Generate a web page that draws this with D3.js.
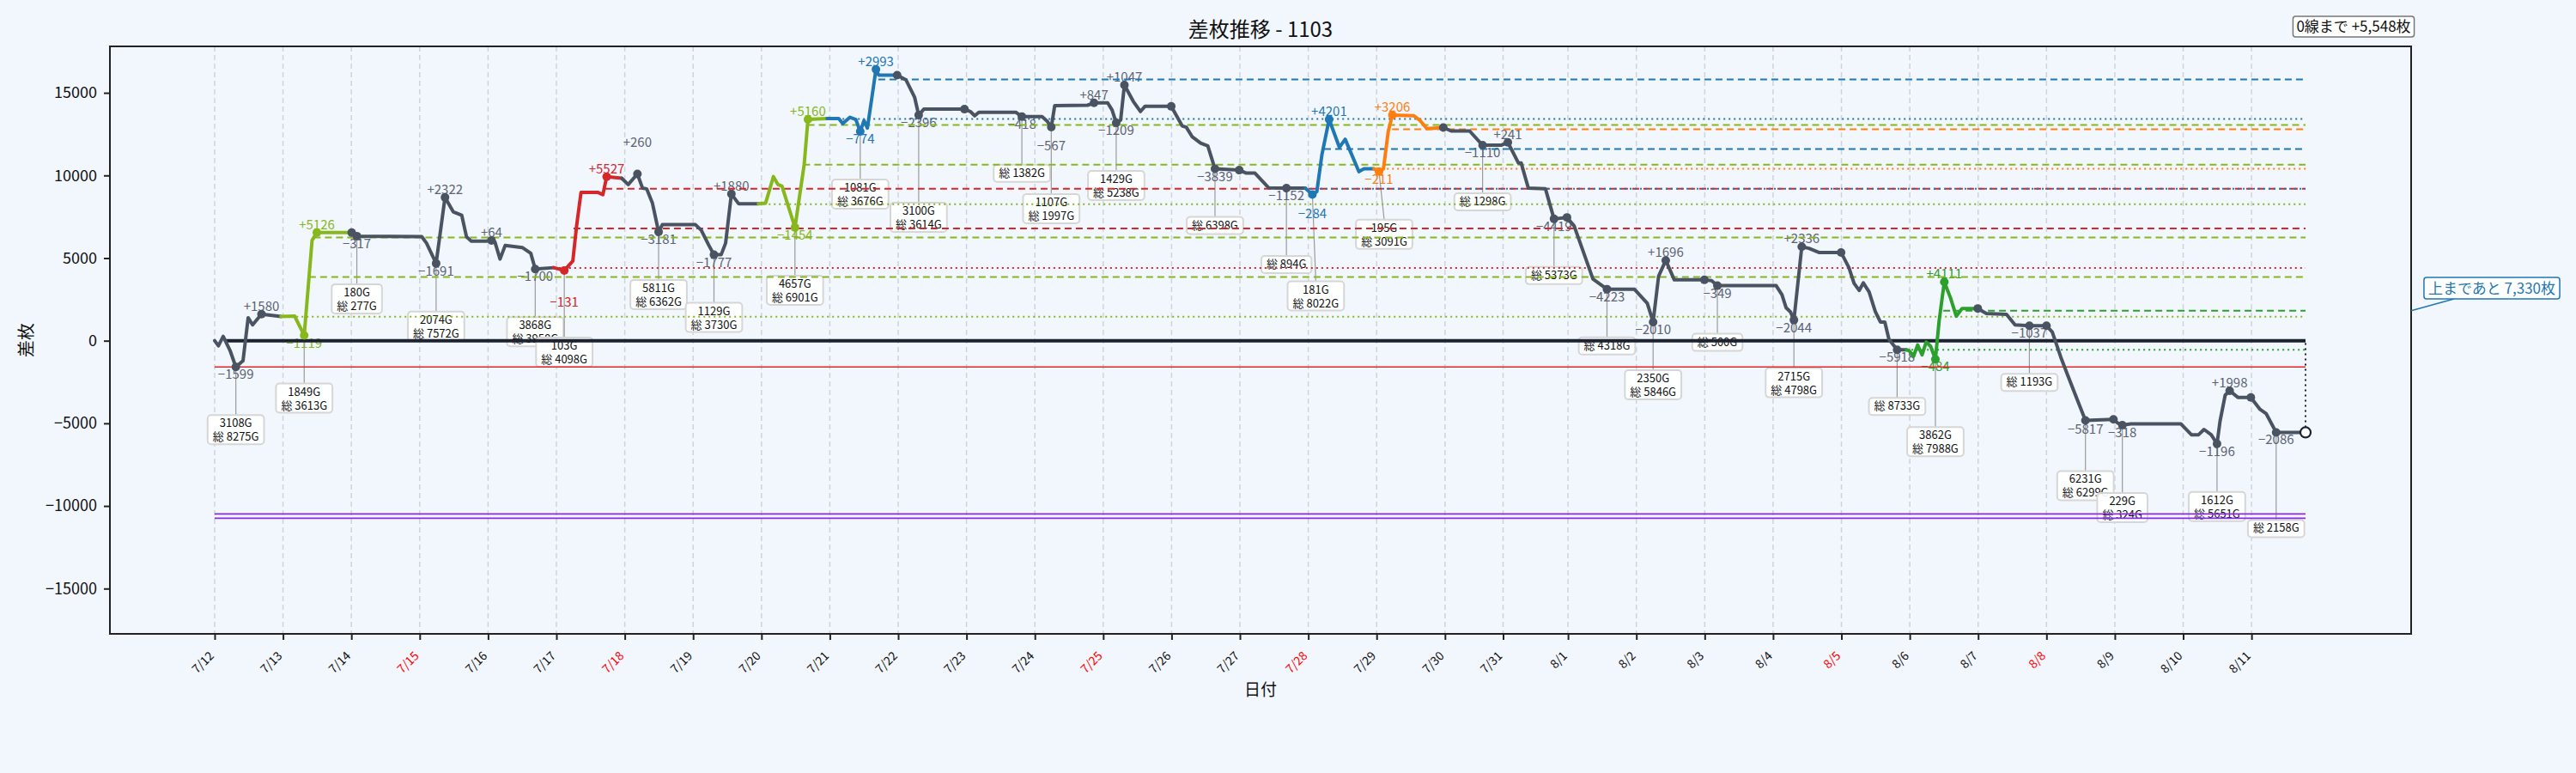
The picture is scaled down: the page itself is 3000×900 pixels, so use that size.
<!DOCTYPE html>
<html>
<head>
<meta charset="utf-8">
<script src="https://cdn.jsdelivr.net/npm/d3@7/dist/d3.min.js"></script>
<style>
html,body{margin:0;padding:0;background:#f2f6fd;}
svg text{font-family:"Noto Sans CJK JP","Noto Sans",sans-serif;}
</style>
</head>
<body>
<svg id="chart" width="3000" height="900"></svg>
<script>
// ================= DATA =================
const title = "差枚推移 - 1103";
const yLabel = "差枚";
const xLabel = "日付";
const dayLabels = ["7/12","7/13","7/14","7/15","7/16","7/17","7/18","7/19","7/20","7/21","7/22","7/23","7/24","7/25","7/26","7/27","7/28","7/29","7/30","7/31","8/1","8/2","8/3","8/4","8/5","8/6","8/7","8/8","8/9","8/10","8/11"];
// sample index where each day starts
const dayStart = [0,20,40,60,80,100,120,140,160,180,200,220,240,260,280,300,320,340,360,377,396,416,436,456,476,496,516,536,556,576,596];
const specialDays = ["7/15","7/18","7/25","7/28","8/5","8/8"];
const yTicks = [-15000,-10000,-5000,0,5000,10000,15000];

// [sample index, 差枚]
const points = [
[0,0],[1.1,-310],[2.5,260],[4.5,-590],[6.2,-1590],[8.3,-1210],[9.8,1390],[11.1,960],[13.7,1610],[19.4,1470],
[23.4,1490],[25.1,780],[26.2,320],[28.5,6070],[29.9,6540],[40.1,6540],[41.6,6330],[60.6,6300],[62,5900],[64.8,4680],
[67.4,8670],[69.8,7800],[72.3,7590],[73.7,6280],[75.1,6020],[79.5,6020],[81,6070],[82,5980],[83.5,4940],[85,5760],
[90,5640],[92.5,5290],[93.8,4340],[99.2,4420],[102.3,4250],[104.8,4820],[105.9,6940],[107.2,8970],[112.2,8970],[113.6,8840],
[114.7,9920],[119.1,9830],[121,9450],[123.7,10090],[125.2,9230],[126.4,9190],[128.1,8320],[129.9,6590],[131,7020],[140.7,7020],
[142.4,6680],[144.5,5810],[146.1,5200],[148.2,5200],[149.5,5900],[151.2,8880],[153.3,8290],[159.1,8290],[161.2,8320],[163.5,9930],
[164.8,9450],[166,9360],[169.8,6850],[172.5,10660],[173.6,13390],[179.2,13440],[182.6,13440],[183.8,13140],[185.9,13520],[187.6,13390],
[188.9,12660],[190,13320],[191,12870],[192.2,14560],[193.5,16420],[194.3,16070],[199.7,16070],[202.3,15780],[204.8,14740],[206,13650],
[207.5,14010],[219.4,14010],[221.1,13870],[222.4,13610],[223.6,13820],[234.5,13820],[236.2,13560],[242.1,13560],[243.7,13260],[244.8,12920],
[245.8,14220],[255.4,14250],[257.3,14390],[261.3,14390],[262.6,13960],[263.8,13180],[265.1,13350],[266.2,15470],[268.8,14480],[270.9,13870],
[272.2,14180],[279.9,14180],[283.1,13000],[284.3,12920],[286,12350],[288.5,11960],[290.6,11790],[292.7,10400],[299.8,10320],[301.9,10140],
[304.4,10140],[308.4,9250],[313.6,9230],[319.1,9230],[321.2,8840],[322.5,9020],[324,11270],[326.1,13390],[329.1,11700],[330.8,12190],
[332.5,11360],[334.8,10230],[336.3,10400],[339.2,10400],[340.7,10230],[342,10400],[343.4,12660],[344.6,13650],[350.9,13610],[352.6,13350],
[354.7,12830],[359.5,12900],[361.8,12690],[367.2,12690],[371,11830],[376.4,11830],[378.4,12000],[381.5,10750],[382.3,10750],[384.4,9230],
[389.4,9190],[391.9,7370],[395.7,7460],[397.8,6940],[403.3,3730],[407.4,3120],[415.4,3120],[419.2,2260],[420.9,1130],[422.5,3900],
[424.6,4860],[427.1,3680],[435.9,3680],[438,3640],[439.7,3330],[456.9,3330],[458.6,2780],[459.8,2000],[461.1,1740],[462.1,1250],
[464.4,5690],[466.5,5590],[469.4,5340],[475.9,5340],[478.2,4420],[479.7,3470],[481.2,3040],[482.4,3500],[484.1,2950],[485.9,1770],
[487.4,1130],[488.7,1130],[489.9,90],[492.3,-550],[495,-550],[495.8,-600],[497.1,-950],[498.3,-260],[499.6,-860],[500.8,-80],
[502.1,-340],[503.5,-1120],[504.6,1220],[506.1,3560],[507.9,2600],[509.6,1480],[511.3,1950],[515.9,1950],[518.4,1650],[524.3,1600],
[526.8,960],[531,905],[536,905],[537.7,520],[540.2,-1000],[542.2,-2080],[544.8,-3460],[547.4,-4820],[555.6,-4760],[556.9,-4990],
[558.2,-5110],[560.7,-5030],[575.3,-5030],[578.4,-5690],[580.5,-5690],[582.1,-5370],[584.2,-5690],[585.9,-6240],[586.8,-4850],[588.3,-3290],
[589.6,-3030],[592,-3430],[595.8,-3430],[598.5,-4160],[600.3,-4420],[603.2,-5548],[611.8,-5548]
];
// [from point, to point, series]
const segments = [[0,9,"gray"],[9,15,"lime"],[15,33,"gray"],[33,41,"red"],[41,57,"gray"],[57,65,"lime"],[65,76,"blue"],[76,113,"gray"],[113,123,"blue"],[123,131,"orange"],[131,174,"gray"],[174,187,"green"],[187,216,"gray"]];
const dotIdx = [4,8,12,14,15,16,19,20,26,32,34,40,43,47,52,55,62,64,70,74,76,79,81,86,89,92,95,97,101,107,108,112,114,117,124,127,131,134,136,141,142,145,148,150,152,154,159,160,163,173,181,183,187,191,192,197,198,200,207,210,212,215];
// [point, swing]
const swingLabels = [[4,-1599],[8,1580],[12,-1119],[14,5126],[16,-317],[19,-1691],[20,2322],[26,64],[32,-1700],[34,-131],[40,5527],[43,260],[47,-3181],[52,-1777],[55,1880],[62,-1454],[64,5160],[70,-774],[74,2993],[79,-2396],[86,-418],[89,-567],[92,847],[95,-1209],[97,1047],[107,-3839],[112,-1152],[114,-284],[117,4201],[124,-211],[127,3206],[134,-1110],[136,241],[141,-4419],[145,-4223],[148,-2010],[150,1696],[154,-349],[159,-2044],[160,2336],[173,-5918],[181,-484],[183,4111],[191,-1037],[197,-5817],[200,-318],[207,-1196],[210,1998],[215,-2086]];
// [point, lines...]
const gameBoxes = [[4,"3108G","総 8275G"],[12,"1849G","総 3613G"],[16,"180G","総 277G"],[19,"2074G","総 7572G"],[32,"3868G","総 3958G"],[34,"103G","総 4098G"],[47,"5811G","総 6362G"],[52,"1129G","総 3730G"],[62,"4657G","総 6901G"],[70,"1081G","総 3676G"],[79,"3100G","総 3614G"],[86,"総 1382G"],[89,"1107G","総 1997G"],[95,"1429G","総 5238G"],[107,"総 6398G"],[112,"総 894G"],[114,"181G","総 8022G"],[124,"195G","総 3091G"],[134,"総 1298G"],[141,"総 5373G"],[145,"総 4318G"],[148,"2350G","総 5846G"],[154,"総 500G"],[159,"2715G","総 4798G"],[173,"総 8733G"],[181,"3862G","総 7988G"],[191,"総 1193G"],[197,"6231G","総 6299G"],[200,"229G","総 324G"],[207,"1612G","総 5651G"],[215,"総 2158G"]];
// reference levels
const refLevel  = [1456,3849,6241,4405,6798,9190,8254,10647,13055,13418,15811,9190,11598,10402,12795,-551,1820];
const refFrom   = [19.4,27.6,29,99.2,105,114.3,159.1,172.2,173.5,179.2,194.2,319.1,324.6,340,344.5,495,505.8];
const refSeries = ["lime","lime","lime","red","red","red","lime","lime","lime","blue","blue","blue","blue","orange","orange","green","green"];
const refKind   = ["start","target","target","start","target","target","start","target","target","start","target","start","target","start","target","start","target"];
const minLevel = -1590;
const drawdownLevels = [-10486,-10746];
const zeroFrom = 3;
const toZeroText = "0線まで +5,548枚";
const toTopText = "上まであと 7,330枚";
const toTopLevel = 1820;

// ================= LAYOUT / STYLE =================
const palette = {gray:"#4a5361", lime:"#86b81c", red:"#d62728", blue:"#1f77b4", orange:"#ff7f0e", green:"#2ca02c"};
const labelExtra = {34:28, 43:-28, 89:13, 114:13, 197:2};
const boxTopExtra = {34:22, 79:46, 89:22, 112:23, 114:45, 181:23, 197:3, 200:23, 215:46};
const boxDx = {114:4, 124:6};

const W=3000,H=900, L=128,R=2808,T=54,B=738;
const x = d3.scaleLinear().domain([-30.65,642.7]).range([L,R]);
const y = d3.scaleLinear().domain([-17740,17810]).range([B,T]);
const svg = d3.select("#chart");
svg.append("rect").attr("width",W).attr("height",H).attr("fill","#f2f6fd");
svg.append("defs").append("clipPath").attr("id","clip").append("rect")
  .attr("x",L).attr("y",T).attr("width",R-L).attr("height",B-T);

const seriesAt = i => { for (const s of segments) if (i>=s[0] && i<s[1]) return s[2]; return "gray"; };
const colorAt = i => palette[seriesAt(i)];
const labelColorAt = i => seriesAt(i)==="gray" ? "#5b6472" : palette[seriesAt(i)];
const fmtSigned = v => (v>0?"+":"−")+Math.abs(v);
const xEnd = points[points.length-1][0];

// grid
svg.append("g").selectAll("line").data(dayStart).join("line")
  .attr("x1",d=>x(d)).attr("x2",d=>x(d)).attr("y1",T).attr("y2",B)
  .attr("stroke","#cfd3da").attr("stroke-width",1.5).attr("stroke-dasharray","6,4");

// game boxes + connectors
const boxG = svg.append("g");
gameBoxes.forEach(([i,...lines])=>{
  const [px,pv] = points[i];
  const cx = x(px)+(boxDx[i]||0);
  const dy = y(pv);
  const top = dy+56+(boxTopExtra[i]||0);
  const h = lines.length===2?34:20;
  boxG.append("line").attr("x1",x(px)).attr("y1",dy).attr("x2",cx).attr("y2",top)
    .attr("stroke","#9a9a9a").attr("stroke-width",1.2);
  const g = boxG.append("g");
  const rect = g.append("rect");
  const ts = lines.map((t,k)=>g.append("text").attr("x",cx).attr("y",top+14+k*16)
    .attr("text-anchor","middle").attr("font-size",13).attr("fill","#111").text(t));
  const w = d3.max(ts,t=>t.node().getComputedTextLength())+12;
  rect.attr("x",cx-w/2).attr("y",top).attr("width",w).attr("height",h).attr("rx",4)
    .attr("fill","#ffffff").attr("fill-opacity",0.93).attr("stroke","#d6d6d6").attr("stroke-width",2);
});

// swing labels
svg.append("g").selectAll("text").data(swingLabels).join("text")
  .attr("x",d=>x(points[d[0]][0]))
  .attr("y",d=>y(points[d[0]][1])+(d[1]>0?-4:14)+(labelExtra[d[0]]||0))
  .attr("text-anchor","middle").attr("font-size",15)
  .attr("fill",d=>labelColorAt(d[0])).text(d=>fmtSigned(d[1]));

// reference lines
const refG = svg.append("g").attr("clip-path","url(#clip)");
refLevel.forEach((v,k)=>{
  refG.append("line").attr("x1",x(refFrom[k])).attr("x2",x(xEnd)).attr("y1",y(v)).attr("y2",y(v))
    .attr("stroke",palette[refSeries[k]]).attr("stroke-width",2)
    .attr("stroke-dasharray",refKind[k]==="start"?"2,4":"8,5");
});
refG.append("line").attr("x1",x(0)).attr("x2",x(xEnd)).attr("y1",y(minLevel)).attr("y2",y(minLevel))
  .attr("stroke","#e0262b").attr("stroke-width",1.5);
drawdownLevels.forEach(v=>{
  refG.append("line").attr("x1",x(0)).attr("x2",x(xEnd)).attr("y1",y(v)).attr("y2",y(v))
    .attr("stroke","#8a2be2").attr("stroke-width",1.8);
});
refG.append("line").attr("x1",x(zeroFrom)).attr("x2",x(xEnd)).attr("y1",y(0)).attr("y2",y(0))
  .attr("stroke","#1b2232").attr("stroke-width",4);

// end dotted vertical
const last = points[points.length-1];
svg.append("line").attr("x1",x(last[0])).attr("x2",x(last[0])).attr("y1",y(last[1])).attr("y2",y(0))
  .attr("stroke","#222").attr("stroke-width",2).attr("stroke-dasharray","2,4");

// main line
const lineGen = d3.line().x(d=>x(d[0])).y(d=>y(d[1]));
const lineG = svg.append("g");
segments.forEach(([a,b,s])=>{
  lineG.append("path").attr("d",lineGen(points.slice(a,b+1))).attr("fill","none")
    .attr("stroke",palette[s]).attr("stroke-width",4).attr("stroke-linejoin","round").attr("stroke-linecap","round");
});
lineG.selectAll("circle").data(dotIdx).join("circle")
  .attr("cx",i=>x(points[i][0])).attr("cy",i=>y(points[i][1])).attr("r",5)
  .attr("fill",i=>colorAt(i));
svg.append("circle").attr("cx",x(last[0])).attr("cy",y(last[1])).attr("r",6)
  .attr("fill","#fff").attr("stroke","#1b2232").attr("stroke-width",2.2);

// spines
svg.append("rect").attr("x",L).attr("y",T).attr("width",R-L).attr("height",B-T)
  .attr("fill","none").attr("stroke","#222").attr("stroke-width",2);

// y axis
const yAx = svg.append("g").attr("transform",`translate(${L},0)`)
  .call(d3.axisLeft(y).tickValues(yTicks).tickSize(7).tickPadding(8)
    .tickFormat(d=>d<0?"−"+Math.abs(d):String(d)));
yAx.select(".domain").remove();
yAx.selectAll("line").attr("stroke","#222").attr("stroke-width",2);
yAx.selectAll("text").attr("font-size",18).attr("fill","#111")
  .style("font-family","'Noto Sans CJK JP','Noto Sans',sans-serif");

// x axis
const xAx = svg.append("g").attr("transform",`translate(0,${B})`)
  .call(d3.axisBottom(x).tickValues(dayStart).tickSize(7).tickFormat((d,i)=>dayLabels[i]));
xAx.select(".domain").remove();
xAx.selectAll("line").attr("stroke","#222").attr("stroke-width",2);
xAx.selectAll("text").attr("x",0).attr("y",0).attr("dy","0.35em")
  .attr("transform","translate(-4,23) rotate(-45)").attr("text-anchor","end")
  .attr("font-size",14)
  .attr("fill",(d,i)=>specialDays.includes(dayLabels[i])?"#ff0000":"#111")
  .style("font-family","'Noto Sans CJK JP','Noto Sans',sans-serif");

// titles
svg.append("text").attr("x",(L+R)/2).attr("y",43).attr("text-anchor","middle")
  .attr("font-size",24).attr("fill","#111").text(title);
svg.append("text").attr("transform","translate(38,396) rotate(-90)").attr("text-anchor","middle")
  .attr("font-size",20).attr("fill","#111").text(yLabel);
svg.append("text").attr("x",(L+R)/2).attr("y",810).attr("text-anchor","middle")
  .attr("font-size",19).attr("fill","#111").text(xLabel);

// top-right box
(function(){
  const g = svg.append("g");
  const r = g.append("rect");
  const t = g.append("text").attr("x",2741).attr("y",37).attr("text-anchor","middle")
    .attr("font-size",17).attr("fill","#111").text(toZeroText);
  const w = t.node().getComputedTextLength()+8;
  r.attr("x",2741-w/2).attr("y",19).attr("width",w).attr("height",24).attr("rx",3)
    .attr("fill","#fff").attr("stroke","#777").attr("stroke-width",1.5);
})();
// right annotation
(function(){
  const g = svg.append("g");
  g.append("line").attr("x1",R).attr("y1",y(toTopLevel)).attr("x2",2858).attr("y2",348)
    .attr("stroke","#1f77b4").attr("stroke-width",1.5);
  const r = g.append("rect");
  const t = g.append("text").attr("x",2902).attr("y",342).attr("text-anchor","middle")
    .attr("font-size",17).attr("fill","#1f77b4").text(toTopText);
  const w = t.node().getComputedTextLength()+10;
  r.attr("x",2902-w/2).attr("y",323).attr("width",w).attr("height",25).attr("rx",3)
    .attr("fill","#fff").attr("stroke","#1f77b4").attr("stroke-width",1.5);
})();
</script>
</body>
</html>
